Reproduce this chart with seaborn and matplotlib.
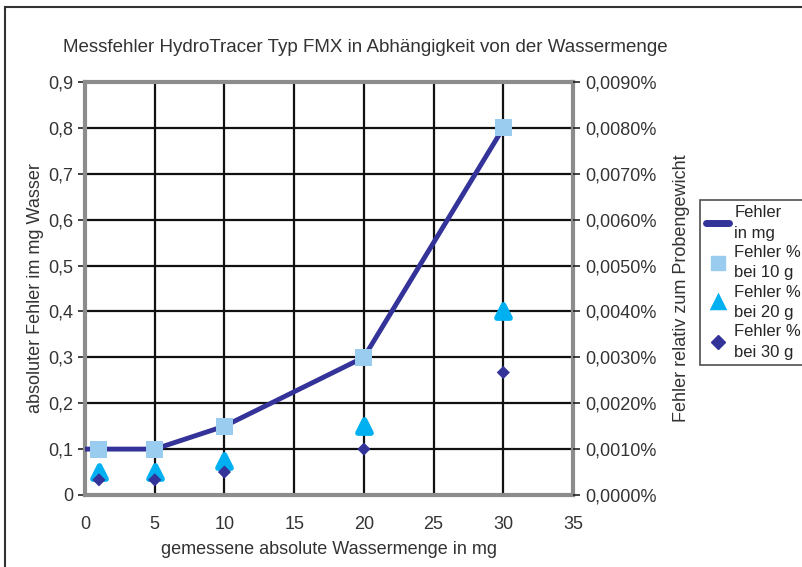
import numpy as np
import pandas as pd
import seaborn as sns
import matplotlib.pyplot as plt
import matplotlib.patches as mpatches
from matplotlib.lines import Line2D
from matplotlib.ticker import FuncFormatter

# data
menge_line = [0, 1, 5, 10, 20, 30]
fehler_mg = [0.1, 0.1, 0.1, 0.15, 0.3, 0.8]
menge = [1, 5, 10, 20, 30]
fehler_10g = [0.1, 0.1, 0.15, 0.3, 0.8]
fehler_20g = [0.05, 0.05, 0.075, 0.15, 0.4]
fehler_30g = [0.033, 0.033, 0.05, 0.1, 0.267]

sns.set_style("white")
plt.rcParams['font.family'] = ['Liberation Sans', 'DejaVu Sans']
fs = 13

line_df = pd.DataFrame({'x': menge_line, 'y': fehler_mg})
pts_df = pd.DataFrame({'x': menge, 'g10': fehler_10g, 'g20': fehler_20g, 'g30': fehler_30g})

fig = plt.figure(figsize=(8.02, 5.67), dpi=100)
ax = fig.add_axes([0.106, 0.127, 0.6085, 0.7284])

c_line = '#333399'
c_sq = '#99ccee'
c_tri = '#00b0f0'

sns.lineplot(data=line_df, x='x', y='y', ax=ax, color=c_line, lw=3.5, zorder=3)
sns.scatterplot(data=pts_df, x='x', y='g10', ax=ax, marker='s', s=150, color=c_sq,
                edgecolor='none', zorder=4)
sns.scatterplot(data=pts_df, x='x', y='g20', ax=ax, marker='^', s=90, color=c_tri,
                edgecolor=c_tri, linewidth=4, zorder=4)
ax.collections[-1].set_joinstyle('round')
sns.scatterplot(data=pts_df, x='x', y='g30', ax=ax, marker='D', s=45, color=c_line,
                edgecolor='none', zorder=4)

ax.set_xlim(0, 35)
ax.set_ylim(0, 0.9)
ax.set_xticks(np.arange(0, 36, 5))
ax.set_yticks(np.round(np.arange(0, 0.91, 0.1), 1))
ax.yaxis.set_major_formatter(FuncFormatter(lambda v, p: '0' if v == 0 else f'{v:.1f}'.replace('.', ',')))
ax.grid(True, color='#111111', lw=1.6)
ax.set_axisbelow(True)
for s in ax.spines.values():
    s.set_color('#8c8c8c')
    s.set_linewidth(3)
ax.tick_params(axis='both', direction='out', length=5, width=1.2, color='#222222',
               labelcolor='#333333', labelsize=fs)
ax.tick_params(axis='x', pad=10)
ax.set_xlabel('gemessene absolute Wassermenge in mg', color='#333333', fontsize=fs, labelpad=6)
ax.set_ylabel('absoluter Fehler im mg Wasser', color='#333333', fontsize=fs, labelpad=3)

ax2 = ax.twinx()
ax2.set_ylim(0, 0.009)
ax2.set_yticks(np.arange(0, 0.00901, 0.001))
ax2.yaxis.set_major_formatter(FuncFormatter(lambda v, p: f'{v:.4f}%'.replace('.', ',')))
ax2.tick_params(axis='y', direction='out', length=5, width=1.2, color='#222222',
                labelcolor='#333333', labelsize=fs)
for s in ax2.spines.values():
    s.set_visible(False)
ax2.set_ylabel('Fehler relativ zum Probengewicht', color='#333333', fontsize=fs, labelpad=12)

fig.text(0.456, 0.917, 'Messfehler HydroTracer Typ FMX in Abhängigkeit von der Wassermenge',
         ha='center', va='center', fontsize=13.5, color='#333333')

handles = [
    Line2D([], [], color=c_line, lw=5),
    Line2D([], [], marker='s', color=c_sq, ls='none', markersize=10),
    Line2D([], [], marker='^', color=c_tri, ls='none', markersize=9,
           markeredgewidth=2.5, markeredgecolor=c_tri),
    Line2D([], [], marker='D', color=c_line, ls='none', markersize=7),
]
labels = ['Fehler\nin mg', 'Fehler %\nbei 10 g', 'Fehler %\nbei 20 g', 'Fehler %\nbei 30 g']
leg = fig.legend(handles, labels, loc='upper left', bbox_to_anchor=(0.873, 0.648),
                 borderaxespad=0, frameon=True, fancybox=False, fontsize=12,
                 handlelength=1.4, handletextpad=0.3, labelspacing=0.25, borderpad=0.35)
for t in leg.get_texts():
    t.set_linespacing(1.45)
leg.get_frame().set_edgecolor('#222222')
leg.get_frame().set_linewidth(1.2)

border = mpatches.Rectangle((5 / 802, -0.1), 1.2, 1.1 - 7 / 567, transform=fig.transFigure,
                            fill=False, edgecolor='#333333', lw=1.5, clip_on=False)
fig.patches.append(border)

fig.savefig('out.png', dpi=100)
